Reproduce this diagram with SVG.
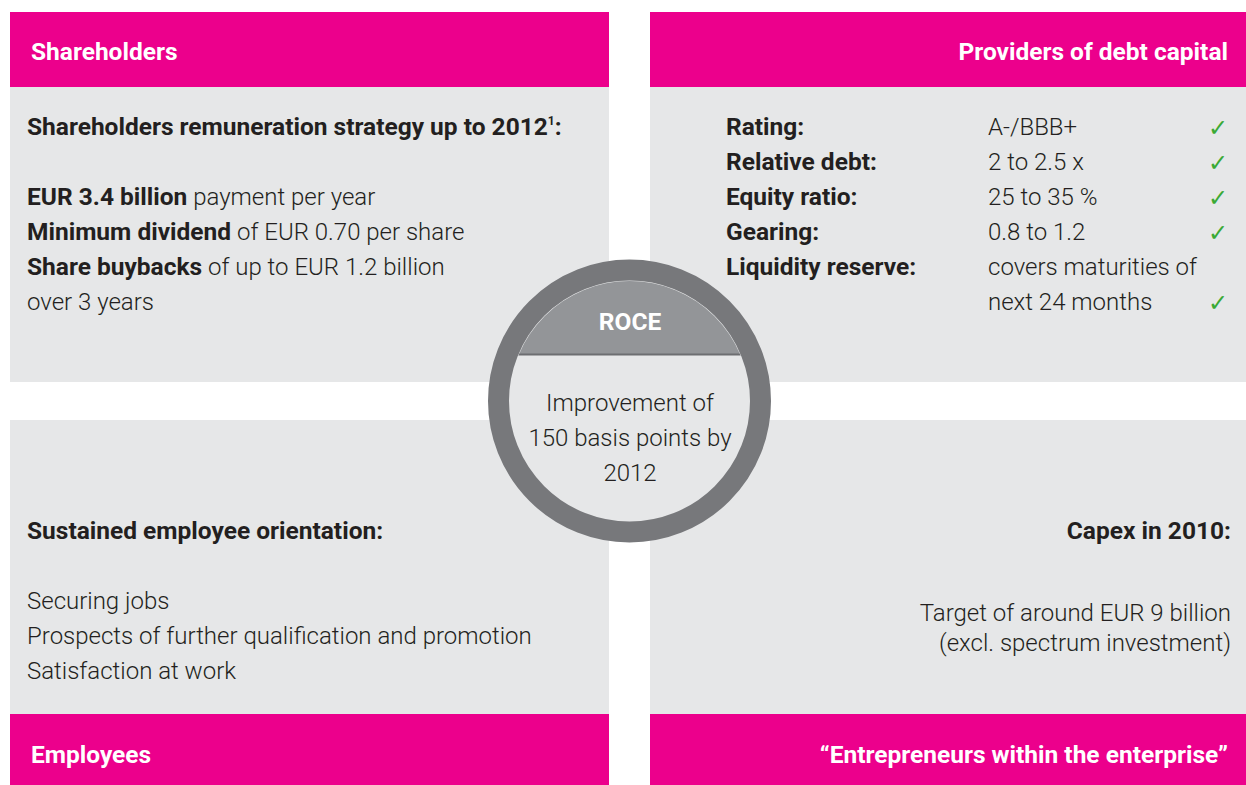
<svg xmlns="http://www.w3.org/2000/svg" width="1246" height="785" viewBox="0 0 1246 785">
  <style>
    .head { fill: #ec008c; }
    .body { fill: #e6e7e8; }
    .ht { font-family: Roboto, "Liberation Sans", sans-serif; font-weight: 700; font-size: 24.5px; fill: #ffffff; }
    .b { font-family: Roboto, "Liberation Sans", sans-serif; font-weight: 700; font-size: 24.5px; fill: #231f20; }
    .t { font-family: Roboto, "Liberation Sans", sans-serif; font-weight: 300; font-size: 24px; fill: #231f20; }
    .tb { font-weight: 700; font-size: 24.5px; }
    .ck { font-family: "DejaVu Sans", sans-serif; font-size: 24px; fill: #3aaa35; }
    .end { text-anchor: end; }
    .mid { text-anchor: middle; }
  </style>
  <defs>
    <clipPath id="inner">
      <circle cx="629.5" cy="401" r="120"/>
    </clipPath>
  </defs>
  <rect width="1246" height="785" fill="#ffffff"/>

  <!-- Shareholders -->
  <g id="shareholders">
    <rect class="body" x="10" y="87" width="599" height="295"/>
    <rect class="head" x="10" y="12" width="599" height="75"/>
    <text class="ht" x="31" y="60">Shareholders</text>
    <text class="b" x="27" y="135">Shareholders remuneration strategy up to 2012<tspan font-size="12" dy="-10">1</tspan><tspan dy="10">:</tspan></text>
    <text class="t" x="27" y="205"><tspan class="tb">EUR 3.4 billion</tspan> payment per year</text>
    <text class="t" x="27" y="240"><tspan class="tb">Minimum dividend</tspan> of EUR 0.70 per share</text>
    <text class="t" x="27" y="275"><tspan class="tb">Share buybacks</tspan> of up to EUR 1.2 billion</text>
    <text class="t" x="27" y="310">over 3 years</text>
  </g>

  <!-- Providers of debt capital -->
  <g id="debt-providers">
    <rect class="body" x="650" y="87" width="596" height="295"/>
    <rect class="head" x="650" y="12" width="596" height="75"/>
    <text class="ht end" x="1228" y="60">Providers of debt capital</text>
    <text class="b" x="726" y="135">Rating:</text>
    <text class="b" x="726" y="170">Relative debt:</text>
    <text class="b" x="726" y="205">Equity ratio:</text>
    <text class="b" x="726" y="240">Gearing:</text>
    <text class="b" x="726" y="275">Liquidity reserve:</text>
    <text class="t" x="988" y="135">A-/BBB+</text>
    <text class="t" x="988" y="170">2 to 2.5 x</text>
    <text class="t" x="988" y="205">25 to 35 %</text>
    <text class="t" x="988" y="240">0.8 to 1.2</text>
    <text class="t" x="988" y="275">covers maturities of</text>
    <text class="t" x="988" y="310">next 24 months</text>
    <text class="ck" x="1208" y="136">✓</text>
    <text class="ck" x="1208" y="171">✓</text>
    <text class="ck" x="1208" y="206">✓</text>
    <text class="ck" x="1208" y="241">✓</text>
    <text class="ck" x="1208" y="311">✓</text>
  </g>

  <!-- Employees -->
  <g id="employees">
    <rect class="body" x="10" y="420" width="599" height="294"/>
    <rect class="head" x="10" y="714" width="599" height="71"/>
    <text class="b" x="27" y="539">Sustained employee orientation:</text>
    <text class="t" x="27" y="609">Securing jobs</text>
    <text class="t" x="27" y="644">Prospects of further qualification and promotion</text>
    <text class="t" x="27" y="679">Satisfaction at work</text>
    <text class="ht" x="31" y="763">Employees</text>
  </g>

  <!-- Entrepreneurs -->
  <g id="entrepreneurs">
    <rect class="body" x="650" y="420" width="596" height="294"/>
    <rect class="head" x="650" y="714" width="596" height="71"/>
    <text class="b end" x="1231" y="539">Capex in 2010:</text>
    <text class="t end" x="1231" y="621">Target of around EUR 9 billion</text>
    <text class="t end" x="1231" y="651">(excl. spectrum investment)</text>
    <text class="ht end" x="1228" y="763">“Entrepreneurs within the enterprise”</text>
  </g>

  <!-- ROCE -->
  <g id="roce">
    <circle cx="629.5" cy="401" r="131" fill="#e6e7e8" stroke="#77787b" stroke-width="21"/>
    <rect x="500" y="260" width="260" height="94" fill="#939598" clip-path="url(#inner)"/>
    <line x1="505" y1="354.5" x2="755" y2="354.5" stroke="#6d6e71" stroke-width="2" clip-path="url(#inner)"/>
    <text class="ht mid" x="630" y="330">ROCE</text>
    <text class="t mid" x="630" y="411">Improvement of</text>
    <text class="t mid" x="630" y="446">150 basis points by</text>
    <text class="t mid" x="630" y="481">2012</text>
  </g>
</svg>
